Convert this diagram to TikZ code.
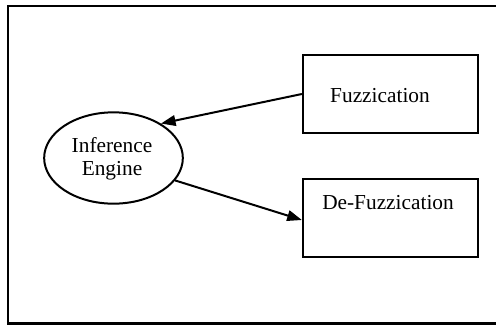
\documentclass[tikz,border=0pt]{standalone}
\usepackage{fontspec}
\setmainfont{Liberation Serif}
\usetikzlibrary{arrows.meta,shapes.geometric}
\begin{document}
\begin{tikzpicture}[x=0.75pt,y=-0.75pt,
  every node/.style={font=\fontsize{16}{19}\selectfont},
  block/.style={draw,line width=1.7pt,minimum width=131.25pt,minimum height=58.5pt,inner sep=0pt},
  engine/.style={draw,ellipse,line width=1.5pt,minimum width=104pt,minimum height=68.5pt,inner sep=0pt},
  link/.style={line width=1.5pt,-{Triangle[length=11pt,width=8pt]}}]
\useasboundingbox (0,0) rectangle (496,325);
\clip (0,0) rectangle (496,325);
% outer frame
\draw[line width=1.7pt] (8,6) rectangle (510,323.5);
% nodes
\node[engine] (ie) at (113.5,158) {};
\node[align=center] (ietext) at (112,159) {Inference\\[-2pt]Engine};
\node[block] (fz) at (390.5,94) {};
\node (fztext) at (380,96) {Fuzzication};
\node[block] (dfz) at (390.5,218) {};
\node (dfztext) at (388,203) {De-Fuzzication};
% connectors
\draw[link] (fz.west) -- (ie.36);
\draw[link] (ie.-20) -- ([yshift=-1.5pt]dfz.west);
\end{tikzpicture}
\end{document}
